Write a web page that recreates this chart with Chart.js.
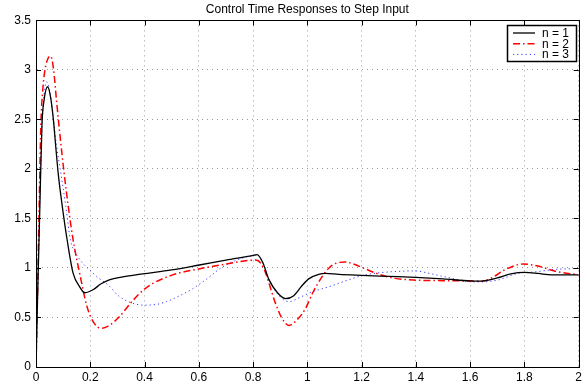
<!DOCTYPE html>
<html>
<head>
<meta charset="utf-8">
<script src="https://cdn.jsdelivr.net/npm/chart.js@4/dist/chart.umd.min.js"></script>
<style>
html,body{margin:0;padding:0;background:#fff;}
#wrap{width:585px;height:385px;position:relative;}
</style>
</head>
<body>
<div id="wrap"><canvas id="c" width="585" height="385"></canvas></div>
<script>
// ---- data ----
const title = "Control Time Responses to Step Input";
const seriesNames = ["n = 1", "n = 2", "n = 3"];
const xTicks = [0, 0.2, 0.4, 0.6, 0.8, 1, 1.2, 1.4, 1.6, 1.8, 2];
const yTicks = [0, 0.5, 1, 1.5, 2, 2.5, 3, 3.5];

const t1 = [0,0.004,0.008,0.014,0.022,0.03,0.043,0.054,0.064,0.072,0.082,0.097,0.115,0.137,0.161,0.18,0.21,0.24,0.27,0.32,0.394,0.5,0.602,0.7,0.797,0.815,0.835,0.859,0.89,0.92,0.95,0.98,1.005,1.042,1.067,1.116,1.2,1.3,1.4,1.5,1.6,1.64,1.7,1.75,1.8,1.85,1.9,2.0];
const y1 = [0,0.5,0.95,1.6,2.45,2.7,2.83,2.72,2.5,2.25,1.95,1.62,1.28,0.945,0.81,0.75,0.78,0.84,0.88,0.91,0.94,0.98,1.03,1.08,1.125,1.135,1.06,0.88,0.75,0.69,0.72,0.82,0.89,0.935,0.945,0.935,0.925,0.915,0.905,0.89,0.87,0.868,0.9,0.94,0.955,0.945,0.93,0.93];

const t2 = [0,0.004,0.008,0.013,0.018,0.025,0.033,0.045,0.054,0.064,0.076,0.088,0.104,0.119,0.137,0.161,0.188,0.215,0.241,0.27,0.308,0.35,0.406,0.504,0.6,0.7,0.81,0.828,0.847,0.865,0.883,0.905,0.932,0.96,0.993,1.02,1.054,1.08,1.103,1.14,1.17,1.21,1.26,1.324,1.4,1.5,1.6,1.64,1.68,1.727,1.795,1.85,1.91,2.0];
const y2 = [0,0.5,1.1,1.8,2.45,2.8,3.0,3.12,3.14,3.02,2.68,2.35,1.95,1.62,1.28,0.945,0.61,0.44,0.39,0.42,0.51,0.65,0.8,0.93,0.99,1.04,1.08,1.05,0.945,0.79,0.64,0.5,0.42,0.47,0.59,0.75,0.91,1.0,1.045,1.06,1.04,0.995,0.94,0.895,0.877,0.872,0.868,0.865,0.9,0.98,1.04,1.02,0.97,0.93];

const t3 = [0,0.004,0.008,0.014,0.021,0.03,0.039,0.05,0.062,0.075,0.092,0.11,0.127,0.14,0.155,0.175,0.198,0.23,0.265,0.308,0.35,0.394,0.44,0.48,0.53,0.577,0.63,0.687,0.75,0.79,0.815,0.835,0.859,0.89,0.914,0.932,0.97,1.018,1.079,1.152,1.213,1.3,1.4,1.45,1.507,1.56,1.605,1.64,1.7,1.776,1.84,1.91,2.0];
const y3 = [0,0.5,0.95,1.65,2.35,2.75,2.88,2.8,2.55,2.25,1.95,1.62,1.28,1.18,1.11,1.04,0.98,0.9,0.83,0.71,0.65,0.625,0.63,0.66,0.72,0.79,0.89,1.01,1.09,1.12,1.13,1.06,0.88,0.74,0.675,0.66,0.7,0.76,0.81,0.88,0.93,0.96,0.97,0.945,0.91,0.88,0.86,0.86,0.877,0.945,0.96,0.985,0.995];

const pts = (t, y) => t.map((v, i) => ({x: v, y: y[i]}));

const FONT = "'Liberation Sans', Arial, Helvetica, sans-serif";

// legend inside axes + inward ticks + box
const matlabAxes = {
  id: 'matlabAxes',
  afterDraw(chart) {
    const ctx = chart.ctx, a = chart.chartArea;
    const xs = chart.scales.x, ys = chart.scales.y;
    ctx.save();
    ctx.strokeStyle = '#000';
    ctx.lineWidth = 1;
    ctx.setLineDash([]);
    ctx.beginPath();
    const L = 5;
    xTicks.forEach(v => {
      const px = Math.round(xs.getPixelForValue(v)) + 0.5;
      ctx.moveTo(px, a.bottom); ctx.lineTo(px, a.bottom - L);
      ctx.moveTo(px, a.top); ctx.lineTo(px, a.top + L);
    });
    yTicks.forEach(v => {
      const py = Math.round(ys.getPixelForValue(v)) + 0.5;
      ctx.moveTo(a.left, py); ctx.lineTo(a.left + L, py);
      ctx.moveTo(a.right, py); ctx.lineTo(a.right - L, py);
    });
    ctx.stroke();
    ctx.strokeRect(Math.round(a.left) + 0.5, Math.round(a.top) + 0.5,
                   Math.round(a.right - a.left), Math.round(a.bottom - a.top));

    // legend box
    const bx = 507.5, by = 25.5, bw = 69, bh = 36;
    ctx.fillStyle = '#fff';
    ctx.fillRect(bx, by, bw, bh);
    ctx.lineWidth = 1.5;
    ctx.strokeRect(bx, by, bw, bh);
    ctx.font = '12px ' + FONT;
    ctx.textBaseline = 'middle';
    ctx.textAlign = 'left';
    chart.data.datasets.forEach((ds, i) => {
      const yy = by + 7.5 + i * 10.7;
      ctx.strokeStyle = ds.borderColor;
      ctx.lineWidth = ds.borderWidth;
      ctx.setLineDash(ds.borderDash || []);
      ctx.beginPath();
      ctx.moveTo(513, yy); ctx.lineTo(535, yy);
      ctx.stroke();
      ctx.setLineDash([]);
      ctx.fillStyle = '#000';
      ctx.fillText(ds.label, 542, yy + 0.5);
    });
    ctx.restore();
  }
};

const fmt = v => String(Math.round(v * 10) / 10);

new Chart(document.getElementById('c'), {
  type: 'line',
  plugins: [matlabAxes],
  data: {
    datasets: [
      {label: seriesNames[0], data: pts(t1, y1), borderColor: '#000000', borderWidth: 1.3, borderDash: []},
      {label: seriesNames[1], data: pts(t2, y2), borderColor: '#ff0000', borderWidth: 1.5, borderDash: [7, 3, 1.5, 3]},
      {label: seriesNames[2], data: pts(t3, y3), borderColor: '#3a3aff', borderWidth: 1, borderDash: [1.2, 3]}
    ]
  },
  options: {
    responsive: false,
    animation: false,
    devicePixelRatio: 1,
    layout: {padding: {left: 0, right: 3, top: 0, bottom: 0}},
    elements: {
      point: {radius: 0, hoverRadius: 0},
      line: {cubicInterpolationMode: 'monotone', fill: false}
    },
    plugins: {
      legend: {display: false},
      tooltip: {enabled: false},
      title: {
        display: true, text: title, color: '#000', fullSize: false,
        font: {family: FONT, size: 12, weight: 'normal', lineHeight: 1.2},
        padding: {top: 2, bottom: 4}
      }
    },
    scales: {
      x: {
        type: 'linear', min: 0, max: 2,
        afterBuildTicks: s => { s.ticks = xTicks.map(v => ({value: v})); },
        afterFit: s => { s.height = 18; },
        ticks: {color: '#000', font: {family: FONT, size: 12}, padding: 3, maxRotation: 0, autoSkip: false, callback: fmt},
        grid: {color: 'rgba(0,0,0,0.4)', drawTicks: false, lineWidth: 1},
        border: {display: true, color: '#000', dash: [1, 4]}
      },
      y: {
        type: 'linear', min: 0, max: 3.5,
        afterBuildTicks: s => { s.ticks = yTicks.map(v => ({value: v})); },
        afterFit: s => { s.width = 36; },
        ticks: {color: '#000', font: {family: FONT, size: 12}, padding: 5, autoSkip: false, callback: fmt},
        grid: {color: 'rgba(0,0,0,0.4)', drawTicks: false, lineWidth: 1},
        border: {display: true, color: '#000', dash: [1, 4]}
      }
    }
  }
});
</script>
</body>
</html>
